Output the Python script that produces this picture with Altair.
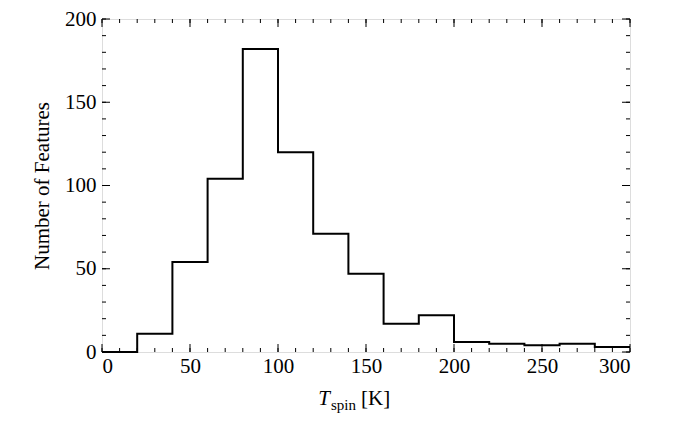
import altair as alt
import pandas as pd

bin_edges = [0, 20, 40, 60, 80, 100, 120, 140, 160, 180, 200, 220, 240, 260, 280, 300]
counts = [0, 11, 54, 104, 182, 120, 71, 47, 17, 22, 6, 5, 4, 5, 3]
x_major = [0, 50, 100, 150, 200, 250, 300]
x_minor = list(range(0, 301, 10))
y_major = [0, 50, 100, 150, 200]
y_minor = list(range(0, 201, 10))

W, H = 528, 333
FONT = "Liberation Serif"

hist = pd.DataFrame({"edge": bin_edges, "count": counts + [counts[-1]]})
xs = alt.Scale(domain=[0, 300], nice=False)
ys = alt.Scale(domain=[0, 200], nice=False)

line = alt.Chart(hist).mark_line(interpolate="step-after", color="black", strokeWidth=2).encode(
    x=alt.X("edge:Q", scale=xs,
            axis=alt.Axis(values=x_major, ticks=False, grid=False, title=None,
                          labelFontSize=21, labelPadding=3, labelFont=FONT,
                          labelColor="black", domain=False)),
    y=alt.Y("count:Q", scale=ys,
            axis=alt.Axis(values=y_major, ticks=False, grid=False,
                          title="Number of Features", titleFontSize=21,
                          titleFont=FONT, titleFontWeight="normal", titlePadding=12,
                          labelFontSize=21, labelPadding=6, labelFont=FONT,
                          labelColor="black", domain=False)),
)


def xticks(vals, length):
    d = pd.DataFrame({"v": vals})
    base = alt.Chart(d).mark_rule(color="black", strokeWidth=1)
    bottom = base.encode(x=alt.X("v:Q", scale=xs), y=alt.value(H), y2=alt.value(H - length))
    top = base.encode(x=alt.X("v:Q", scale=xs), y=alt.value(0), y2=alt.value(length))
    return [bottom, top]


def yticks(vals, length):
    d = pd.DataFrame({"v": vals})
    base = alt.Chart(d).mark_rule(color="black", strokeWidth=1)
    left = base.encode(y=alt.Y("v:Q", scale=ys), x=alt.value(0), x2=alt.value(length))
    right = base.encode(y=alt.Y("v:Q", scale=ys), x=alt.value(W), x2=alt.value(W - length))
    return [left, right]


ticks = xticks(x_major, 8) + xticks(x_minor, 4) + yticks(y_major, 8) + yticks(y_minor, 4)

title_df = pd.DataFrame({"t": ["T"], "s": ["spin"], "k": ["[K]"]})
t_main = alt.Chart(title_df).mark_text(font=FONT, fontSize=21, fontStyle="italic",
                                       align="right", baseline="alphabetic").encode(
    text="t:N", x=alt.value(W / 2 - 36), y=alt.value(H + 53))
t_sub = alt.Chart(title_df).mark_text(font=FONT, fontSize=15, align="left",
                                      baseline="alphabetic").encode(
    text="s:N", x=alt.value(W / 2 - 35), y=alt.value(H + 58))
t_unit = alt.Chart(title_df).mark_text(font=FONT, fontSize=21, align="left",
                                       baseline="alphabetic").encode(
    text="k:N", x=alt.value(W / 2 - 5), y=alt.value(H + 53))

chart = alt.layer(line, *ticks, t_main, t_sub, t_unit).properties(
    width=W, height=H, padding={"left": 23, "top": 0, "right": 5, "bottom": 5}
).configure_view(stroke="black", strokeWidth=2).configure(background="white")

chart.save("out.html", embed_options={"renderer": "svg", "actions": False})
